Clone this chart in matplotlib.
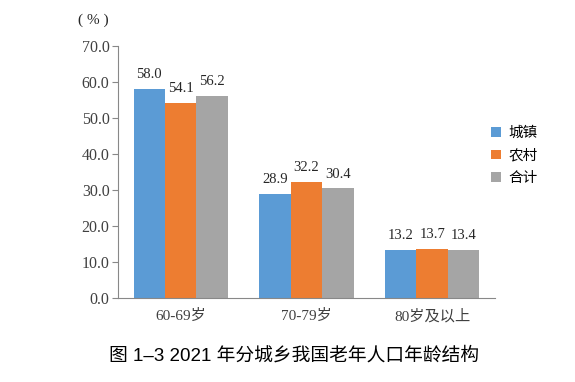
import matplotlib.pyplot as plt
import numpy as np

categories = ["60-69岁", "70-79岁", "80岁及以上"]
series_names = ["城镇", "农村", "合计"]
urban = [58.0, 28.9, 13.2]
rural = [54.1, 32.2, 13.7]
total = [56.2, 30.4, 13.4]
colors = ["#5B9BD5", "#ED7D31", "#A5A5A5"]

serif = ["Liberation Serif", "Noto Sans CJK SC"]
sans = ["Liberation Sans", "Noto Sans CJK SC"]

fig = plt.figure(figsize=(5.75, 3.82), dpi=100)
ax = fig.add_axes([0.205, 0.22, 0.656, 0.66])

x = np.arange(len(categories))
w = 0.25
for i, (vals, name, c) in enumerate(zip([urban, rural, total], series_names, colors)):
    pos = x + (i - 1) * w
    ax.bar(pos, vals, width=w, color=c, label=name)
    for px, v in zip(pos, vals):
        ax.text(px, v + 2.2, f"{v:.1f}", ha="center", va="bottom",
                fontsize=10.5, family=serif, color="#262626")

ax.set_xlim(-0.5, 2.5)
ax.set_ylim(0, 70)
ax.set_yticks(np.arange(0, 71, 10))
ax.set_yticklabels([f"{t:.1f}" for t in np.arange(0, 71, 10)],
                   family=serif, fontsize=11.5, color="#404040")
ax.set_xticks(x)
ax.set_xticklabels(categories, family=serif, fontsize=11, color="#404040")
ax.tick_params(axis="x", length=0, pad=8)
ax.tick_params(axis="y", length=4, color="#888888", pad=2)
for s in ["top", "right"]:
    ax.spines[s].set_visible(False)
for s in ["left", "bottom"]:
    ax.spines[s].set_color("#888888")

# y-axis unit above the axis
fig.text(0.135, 0.948, "( % )", family=serif, fontsize=11,
         color="#262626", ha="left", va="center")

ax.legend(loc="center left", bbox_to_anchor=(0.955, 0.565), frameon=False,
          prop={"family": sans, "size": 10.5}, handlelength=0.65, handleheight=0.65,
          labelspacing=0.6, handletextpad=0.55)

fig.text(0.512, 0.07, "图 1–3 2021 年分城乡我国老年人口年龄结构", ha="center",
         va="center", fontsize=13.5, fontweight="medium", family=sans)

fig.savefig("out.png", dpi=100)
